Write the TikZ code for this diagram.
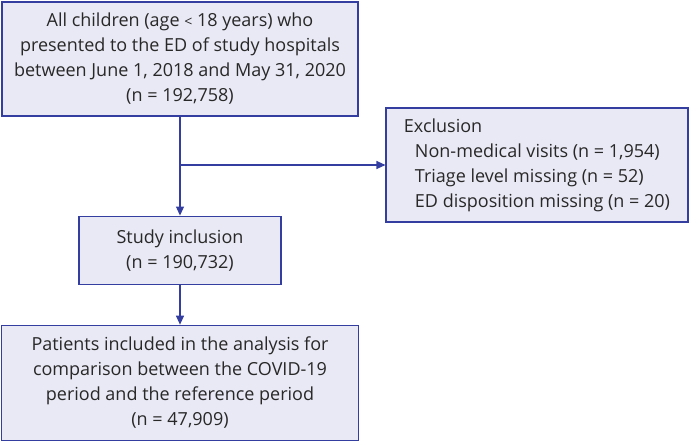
\documentclass[tikz,border=0pt]{standalone}
\usepackage{fontspec}
\setmainfont{Open Sans}
\usetikzlibrary{positioning,arrows.meta}
\definecolor{flowblue}{RGB}{52,62,160}
\definecolor{flowfill}{RGB}{233,233,245}
\definecolor{flowtext}{RGB}{40,40,40}
\tikzset{
  flowbox/.style={draw=flowblue, line width=1.1pt, fill=flowfill, align=center, inner sep=0pt, text=flowtext, font=\fontsize{18}{25}\selectfont},
  exclbox/.style={flowbox, align=left},
  arrow/.style={-{Triangle[width=8pt,length=9pt]}, line width=1.1pt, draw=flowblue}
}
\begin{document}
\begin{tikzpicture}[x=1pt,y=1pt]
\useasboundingbox (0,0) rectangle (691,-440);
\node[flowbox, minimum width=356pt, minimum height=114pt] (all) at (180,-59) {All children (age {\fontsize{14}{25}\selectfont<} 18 years) who\\presented to the ED of study hospitals\\between June 1, 2018 and May 31, 2020\\(n = 192,758)};
\node[flowbox, minimum width=202pt, minimum height=68pt, below=99pt of all.south, anchor=north] (incl) {Study inclusion\\(n = 190,732)};
\node[flowbox, minimum width=357pt, minimum height=115pt, below=40pt of incl.south, anchor=north] (analysis) {Patients included in the analysis for\\comparison between the COVID-19\\period and the reference period\\(n = 47,909)};
\node[exclbox, minimum width=302pt, minimum height=114pt] (excl) at (537,-165) {Exclusion\\\hspace*{11pt}Non-medical visits (n = 1,954)\\\hspace*{11pt}Triage level missing (n = 52)\\\hspace*{11pt}ED disposition missing (n = 20)};
\coordinate (branch) at (all.south |- excl.west);
\draw[arrow] (all) -- (incl);
\draw[arrow] (branch) -- (excl);
\draw[arrow] (incl) -- (analysis);
\end{tikzpicture}
\end{document}
